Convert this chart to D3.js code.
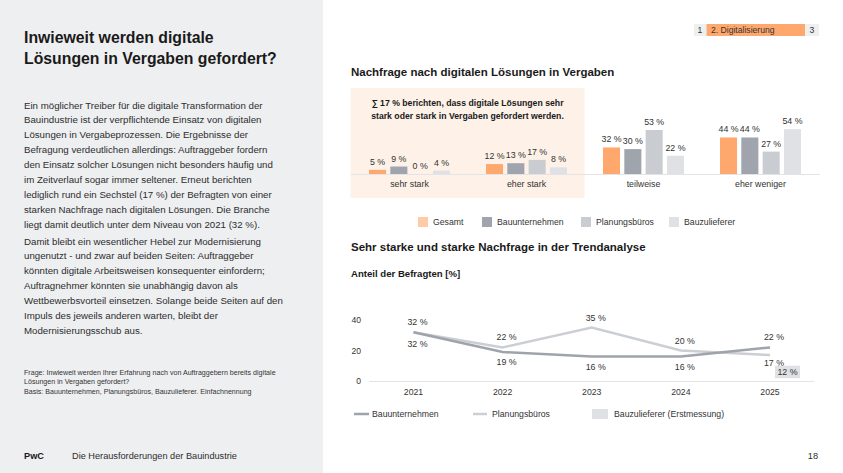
<!DOCTYPE html>
<meta charset="utf-8">
<style>
  body { margin: 0; background: #fff; }
  svg { display: block; font-family: "Liberation Sans", Arial, sans-serif; }
</style>
<div id="page"></div>
<script src="https://cdn.jsdelivr.net/npm/d3@7"></script>
<script>

// ---- data ----
var categories = ["sehr stark", "eher stark", "teilweise", "eher weniger"];
var seriesNames = ["Gesamt", "Bauunternehmen", "Planungsbüros", "Bauzulieferer"];
var gesamt = [5, 12, 32, 44];
var bauunternehmen = [9, 13, 30, 44];
var planungsbueros = [0, 17, 53, 27];
var bauzulieferer = [4, 8, 22, 54];

var years = ["2021", "2022", "2023", "2024", "2025"];
var trendBau = [32, 19, 16, 16, 22];
var trendPlan = [32, 22, 35, 20, 17];
var bauzuliefererErst = 12; // only 2025
var yTicks = [0, 20, 40];

var titleLines = ["Inwieweit werden digitale", "Lösungen in Vergaben gefordert?"];
var para1 = [
  "Ein möglicher Treiber für die digitale Transformation der",
  "Bauindustrie ist der verpflichtende Einsatz von digitalen",
  "Lösungen in Vergabeprozessen. Die Ergebnisse der",
  "Befragung verdeutlichen allerdings: Auftraggeber fordern",
  "den Einsatz solcher Lösungen nicht besonders häufig und",
  "im Zeitverlauf sogar immer seltener. Erneut berichten",
  "lediglich rund ein Sechstel (17 %) der Befragten von einer",
  "starken Nachfrage nach digitalen Lösungen. Die Branche",
  "liegt damit deutlich unter dem Niveau von 2021 (32 %)."
];
var para2 = [
  "Damit bleibt ein wesentlicher Hebel zur Modernisierung",
  "ungenutzt - und zwar auf beiden Seiten: Auftraggeber",
  "könnten digitale Arbeitsweisen konsequenter einfordern;",
  "Auftragnehmer könnten sie unabhängig davon als",
  "Wettbewerbsvorteil einsetzen. Solange beide Seiten auf den",
  "Impuls des jeweils anderen warten, bleibt der",
  "Modernisierungsschub aus."
];
var footnote = [
  "Frage: Inwieweit werden Ihrer Erfahrung nach von Auftraggebern bereits digitale",
  "Lösungen in Vergaben gefordert?",
  "Basis: Bauunternehmen, Planungsbüros, Bauzulieferer. Einfachnennung"
];

var barColors = ["#ffa86e", "#9fa4ad", "#c9cdd2", "#dfe1e4"];
var legendColors = ["#ffcba4", "#9fa4ad", "#c9cdd2", "#dfe1e4"];

var svg = d3.select("#page").append("svg")
    .attr("width", 843)
    .attr("height", 473);

// ---- left panel ----
svg.append("rect").attr("width", 323).attr("height", 473).attr("fill", "#eeeff1");

svg.append("g").selectAll("text")
  .data(titleLines)
  .enter().append("text")
    .attr("x", 24)
    .attr("y", function(d, i) { return 43 + i * 20.5; })
    .attr("font-size", 15.8)
    .attr("font-weight", "bold")
    .attr("fill", "#1a1a1a")
    .text(function(d) { return d; });

var body = svg.append("g").attr("font-size", 9.7).attr("fill", "#2d2d2d");
body.selectAll("text.p1")
  .data(para1)
  .enter().append("text")
    .attr("class", "p1")
    .attr("x", 24)
    .attr("y", function(d, i) { return 108.5 + i * 14.9; })
    .text(function(d) { return d; });
body.selectAll("text.p2")
  .data(para2)
  .enter().append("text")
    .attr("class", "p2")
    .attr("x", 24)
    .attr("y", function(d, i) { return 244.5 + i * 14.9; })
    .text(function(d) { return d; });

svg.append("g").attr("font-size", 7.1).attr("fill", "#333")
  .selectAll("text")
  .data(footnote)
  .enter().append("text")
    .attr("x", 24)
    .attr("y", function(d, i) { return 374.5 + i * 9 + (i == 2 ? 1.5 : 0); })
    .text(function(d) { return d; });

svg.append("text").attr("x", 24).attr("y", 458.5)
    .attr("font-size", 9.2).attr("font-weight", "bold").attr("fill", "#1a1a1a").text("PwC");
svg.append("text").attr("x", 72).attr("y", 458.5)
    .attr("font-size", 9.2).attr("fill", "#2d2d2d").text("Die Herausforderungen der Bauindustrie");
svg.append("text").attr("x", 818).attr("y", 458.5).attr("text-anchor", "end")
    .attr("font-size", 9.2).attr("fill", "#2d2d2d").text("18");

// ---- nav ----
var nav = svg.append("g").attr("font-size", 8.6).attr("fill", "#333");
nav.append("rect").attr("x", 694).attr("y", 24).attr("width", 12.5).attr("height", 12).attr("fill", "#eeeff1");
nav.append("rect").attr("x", 706.5).attr("y", 24).attr("width", 98.5).attr("height", 12).attr("fill", "#ffa86e");
nav.append("rect").attr("x", 805).attr("y", 24).attr("width", 14).attr("height", 12).attr("fill", "#eeeff1");
nav.append("text").attr("x", 700).attr("y", 33).attr("text-anchor", "middle").text("1");
nav.append("text").attr("x", 711).attr("y", 33).text("2. Digitalisierung");
nav.append("text").attr("x", 812).attr("y", 33).attr("text-anchor", "middle").text("3");

// ---- bar chart ----
svg.append("text").attr("x", 351).attr("y", 75.5)
    .attr("font-size", 11.5).attr("font-weight", "bold").attr("fill", "#1a1a1a")
    .text("Nachfrage nach digitalen Lösungen in Vergaben");

svg.append("rect").attr("x", 350.5).attr("y", 88).attr("width", 234).attr("height", 110).attr("fill", "#fdf1e8");
svg.append("g").attr("font-size", 8.7).attr("font-weight", "bold").attr("fill", "#1a1a1a")
    .attr("text-anchor", "middle")
  .selectAll("text")
  .data(["∑ 17 % berichten, dass digitale Lösungen sehr", "stark oder stark in Vergaben gefordert werden."])
  .enter().append("text")
    .attr("x", 467.5)
    .attr("y", function(d, i) { return 105.5 + i * 13; })
    .text(function(d) { return d; });

var barData = [gesamt, bauunternehmen, planungsbueros, bauzulieferer];

var x0 = d3.scaleBand().domain(categories).range([351, 819]);
var x1 = d3.scaleBand().domain(seriesNames).range([0, 81]).paddingInner(0.2);
var yBar = d3.scaleLinear().domain([0, 100]).range([174, 91]);

svg.append("line").attr("x1", 351).attr("x2", 820).attr("y1", 174.5).attr("y2", 174.5)
    .attr("stroke", "#e4e4e4").attr("stroke-width", 1);

var group = svg.append("g").selectAll("g")
  .data(categories)
  .enter().append("g")
    .attr("transform", function(d) { return "translate(" + (x0(d) + x0.bandwidth() / 2 - 40.5) + ",0)"; });

group.selectAll("rect")
  .data(function(d, ci) { return seriesNames.map(function(s, si) { return {s: s, si: si, v: barData[si][ci]}; }); })
  .enter().append("rect")
    .attr("x", function(d) { return x1(d.s); })
    .attr("y", function(d) { return yBar(d.v); })
    .attr("width", x1.bandwidth())
    .attr("height", function(d) { return yBar(0) - yBar(d.v); })
    .attr("fill", function(d) { return barColors[d.si]; });

group.selectAll("text.val")
  .data(function(d, ci) { return seriesNames.map(function(s, si) { return {s: s, si: si, v: barData[si][ci]}; }); })
  .enter().append("text")
    .attr("class", "val")
    .attr("x", function(d) { return x1(d.s) + x1.bandwidth() / 2; })
    .attr("y", function(d) { return yBar(d.v) - 5; })
    .attr("text-anchor", "middle")
    .attr("font-size", 8.8)
    .attr("fill", "#333")
    .text(function(d) { return d.v + " %"; });

svg.append("g").selectAll("text")
  .data(categories)
  .enter().append("text")
    .attr("x", function(d) { return x0(d) + x0.bandwidth() / 2; })
    .attr("y", 187)
    .attr("text-anchor", "middle")
    .attr("font-size", 8.8)
    .attr("fill", "#333")
    .text(function(d) { return d; });

// legend bars
var legendX = [418, 482, 581, 669];
var legend = svg.append("g").selectAll("g")
  .data(seriesNames)
  .enter().append("g")
    .attr("transform", function(d, i) { return "translate(" + legendX[i] + ",217)"; });
legend.append("rect").attr("width", 10).attr("height", 10)
    .attr("fill", function(d, i) { return legendColors[i]; });
legend.append("text").attr("x", 15).attr("y", 8.2)
    .attr("font-size", 8.7).attr("fill", "#333")
    .text(function(d) { return d; });

// ---- trend chart ----
svg.append("text").attr("x", 351).attr("y", 251)
    .attr("font-size", 11.5).attr("font-weight", "bold").attr("fill", "#1a1a1a")
    .text("Sehr starke und starke Nachfrage in der Trendanalyse");
svg.append("text").attr("x", 351).attr("y", 276.5)
    .attr("font-size", 9.6).attr("font-weight", "bold").attr("fill", "#1a1a1a")
    .text("Anteil der Befragten [%]");

var xL = d3.scalePoint().domain(years).range([413.5, 770]);
var yL = d3.scaleLinear().domain([0, 40]).range([381, 320]);

svg.append("line").attr("x1", 369).attr("x2", 814).attr("y1", 381.5).attr("y2", 381.5)
    .attr("stroke", "#e4e4e4");

svg.append("g").selectAll("text")
  .data(yTicks)
  .enter().append("text")
    .attr("x", 361)
    .attr("y", function(d) { return yL(d) + 3; })
    .attr("text-anchor", "end")
    .attr("font-size", 8.6)
    .attr("fill", "#333")
    .text(function(d) { return d; });

svg.append("g").selectAll("text")
  .data(years)
  .enter().append("text")
    .attr("x", function(d) { return xL(d); })
    .attr("y", 395)
    .attr("text-anchor", "middle")
    .attr("font-size", 8.7)
    .attr("fill", "#333")
    .text(function(d) { return d; });

var line = d3.line()
    .x(function(d, i) { return xL(years[i]); })
    .y(function(d) { return yL(d); });

svg.append("path").datum(trendPlan).attr("d", line)
    .attr("fill", "none").attr("stroke", "#cbced3").attr("stroke-width", 2.5);
svg.append("path").datum(trendBau).attr("d", line)
    .attr("fill", "none").attr("stroke", "#9ea3ac").attr("stroke-width", 2.5);

// labels: the higher series goes above, the other below (tie: Planungsbüros above)
var lbl = svg.append("g").attr("font-size", 8.8).attr("fill", "#333").attr("text-anchor", "middle");
years.forEach(function(yr, i) {
  var planAbove = trendPlan[i] >= trendBau[i];
  lbl.append("text")
    .attr("x", xL(yr) + 4)
    .attr("y", yL(trendPlan[i]) + (planAbove ? -7 : 11))
    .text(trendPlan[i] + " %");
  lbl.append("text")
    .attr("x", xL(yr) + 4)
    .attr("y", yL(trendBau[i]) + (planAbove ? 13 + (i == 0 ? 2 : 0) : -7))
    .text(trendBau[i] + " %");
});

// Bauzulieferer first measurement: 2025 only
var bz = svg.append("g")
    .attr("transform", "translate(" + (xL("2025") + 5) + "," + (yL(bauzuliefererErst) + 3) + ")");
bz.append("rect").attr("width", 25).attr("height", 12.5).attr("fill", "#dfe1e4");
bz.append("text").attr("x", 12.5).attr("y", 9.3).attr("text-anchor", "middle")
    .attr("font-size", 8.8).attr("fill", "#333").text(bauzuliefererErst + " %");

// legend lines
var lg2 = svg.append("g").attr("font-size", 8.7).attr("fill", "#333");
lg2.append("line").attr("x1", 354).attr("x2", 369).attr("y1", 414).attr("y2", 414)
    .attr("stroke", "#9ea3ac").attr("stroke-width", 2.5);
lg2.append("text").attr("x", 372).attr("y", 417).text("Bauunternehmen");
lg2.append("line").attr("x1", 473).attr("x2", 487).attr("y1", 414).attr("y2", 414)
    .attr("stroke", "#cbced3").attr("stroke-width", 2.5);
lg2.append("text").attr("x", 492).attr("y", 417).text("Planungsbüros");
lg2.append("rect").attr("x", 592).attr("y", 409).attr("width", 16).attr("height", 10).attr("fill", "#dfe1e4");
lg2.append("text").attr("x", 614).attr("y", 417).text("Bauzulieferer (Erstmessung)");

</script>
